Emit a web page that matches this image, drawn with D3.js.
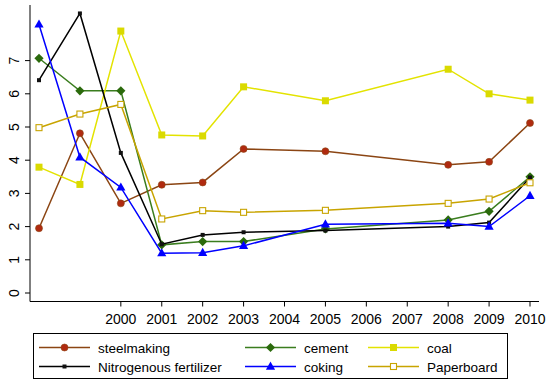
<!DOCTYPE html>
<html>
<head>
<meta charset="utf-8">
<script src="https://cdn.jsdelivr.net/npm/d3@7"></script>
<style>
  body { margin: 0; background: #fff; }
  text { font-family: "Liberation Sans", Arial, sans-serif; }
</style>
</head>
<body>
<svg id="canvas" width="550" height="386"></svg>
<script>
// years on the x axis (no data for 2004, 2006, 2007)
var years = [1998, 1999, 2000, 2001, 2002, 2003, 2005, 2008, 2009, 2010];
var tickYears = [2000, 2001, 2002, 2003, 2004, 2005, 2006, 2007, 2008, 2009, 2010];
var yTicks = [0, 1, 2, 3, 4, 5, 6, 7];

var steelmaking = [1.95, 4.81, 2.70, 3.26, 3.33, 4.34, 4.27, 3.86, 3.95, 5.12];
var cement      = [7.07, 6.09, 6.09, 1.45, 1.55, 1.55, 1.93, 2.20, 2.46, 3.50];
var coal        = [3.79, 3.27, 7.89, 4.76, 4.73, 6.21, 5.79, 6.74, 6.00, 5.81];
var fertilizer  = [6.41, 8.42, 4.22, 1.47, 1.75, 1.83, 1.88, 2.00, 2.12, 3.48];
var coking      = [8.09, 4.09, 3.18, 1.20, 1.21, 1.42, 2.07, 2.10, 2.00, 2.93];
var paperboard  = [4.98, 5.39, 5.68, 2.23, 2.48, 2.43, 2.49, 2.70, 2.83, 3.32];

var seriesNames = ["steelmaking", "cement", "coal", "Nitrogenous fertilizer", "coking", "Paperboard"];

var series = [
  { name: seriesNames[0], values: steelmaking, line: "#8b4513", fill: "#b02a10", marker: "circle" },
  { name: seriesNames[1], values: cement, line: "#3a7d1e", fill: "#2b6a0c", marker: "diamond" },
  { name: seriesNames[2], values: coal, line: "#e3e300", fill: "#dada00", marker: "square" },
  { name: seriesNames[3], values: fertilizer, line: "#000000", fill: "#111111", marker: "small" },
  { name: seriesNames[4], values: coking, line: "#0000ff", fill: "#0000ff", marker: "triangle" },
  { name: seriesNames[5], values: paperboard, line: "#c8a400", fill: "none", marker: "hollow" }
];

var svg = d3.select("#canvas");

var x = d3.scaleLinear().domain([1998, 2010]).range([39, 530]);
var y = d3.scaleLinear().domain([0, 7]).range([293, 60.6]);

var axisLeftX = 30, axisBottomY = 301.5;

// y axis
svg.append("line")
  .attr("x1", axisLeftX).attr("x2", axisLeftX)
  .attr("y1", 5).attr("y2", axisBottomY)
  .attr("stroke", "#000").attr("stroke-width", 1);

var yt = svg.append("g");
yTicks.forEach(function(t) {
  yt.append("line")
    .attr("x1", axisLeftX - 5).attr("x2", axisLeftX)
    .attr("y1", y(t)).attr("y2", y(t))
    .attr("stroke", "#000");
  yt.append("text")
    .attr("transform", "translate(19," + y(t) + ") rotate(-90)")
    .attr("text-anchor", "middle")
    .attr("font-size", "14px")
    .text(t);
});

// x axis
svg.append("line")
  .attr("x1", axisLeftX).attr("x2", 539)
  .attr("y1", axisBottomY).attr("y2", axisBottomY)
  .attr("stroke", "#000");

var xt = svg.append("g");
tickYears.forEach(function(t) {
  xt.append("line")
    .attr("x1", x(t)).attr("x2", x(t))
    .attr("y1", axisBottomY).attr("y2", axisBottomY + 5)
    .attr("stroke", "#000");
  xt.append("text")
    .attr("x", x(t)).attr("y", 324)
    .attr("text-anchor", "middle")
    .attr("font-size", "14px")
    .text(t);
});

function drawMarker(g, kind, cx, cy, s) {
  if (kind == "circle") {
    g.append("circle").attr("cx", cx).attr("cy", cy).attr("r", 3.5)
      .attr("fill", s.fill).attr("stroke", s.line).attr("stroke-width", 0.6);
  } else if (kind == "diamond") {
    var r = 4.6;
    g.append("path")
      .attr("d", "M" + cx + "," + (cy - r) + "L" + (cx + r) + "," + cy + "L" + cx + "," + (cy + r) + "L" + (cx - r) + "," + cy + "Z")
      .attr("fill", s.fill);
  } else if (kind == "square") {
    g.append("rect").attr("x", cx - 3.5).attr("y", cy - 3.5).attr("width", 7).attr("height", 7)
      .attr("fill", s.fill);
  } else if (kind == "small") {
    g.append("rect").attr("x", cx - 2).attr("y", cy - 2).attr("width", 4).attr("height", 4)
      .attr("fill", s.fill);
  } else if (kind == "triangle") {
    var h = 5;
    g.append("path")
      .attr("d", "M" + cx + "," + (cy - h) + "L" + (cx + 4.6) + "," + (cy + 3.2) + "L" + (cx - 4.6) + "," + (cy + 3.2) + "Z")
      .attr("fill", s.fill);
  } else if (kind == "hollow") {
    g.append("rect").attr("x", cx - 3).attr("y", cy - 3).attr("width", 6).attr("height", 6)
      .attr("fill", "#fff").attr("stroke", s.line).attr("stroke-width", 1.1);
  }
}

var line = d3.line()
  .x(function(d) { return x(d[0]); })
  .y(function(d) { return y(d[1]); });

series.forEach(function(s) {
  var pts = years.map(function(yr, i) { return [yr, s.values[i]]; });
  var g = svg.append("g");
  g.append("path")
    .attr("d", line(pts))
    .attr("fill", "none")
    .attr("stroke", s.line)
    .attr("stroke-width", 1.5);
  pts.forEach(function(p) { drawMarker(g, s.marker, x(p[0]), y(p[1]), s); });
});

// legend
var legend = svg.append("g");
legend.append("rect")
  .attr("x", 33.5).attr("y", 333.5).attr("width", 474).attr("height", 45)
  .attr("fill", "#fff").attr("stroke", "#000").attr("stroke-width", 1);

var colX = [39, 245, 368];
var rowY = [347.5, 366.5];
series.forEach(function(s, i) {
  var cx = colX[i % 3], cy = rowY[Math.floor(i / 3)];
  legend.append("line")
    .attr("x1", cx).attr("x2", cx + 51)
    .attr("y1", cy).attr("y2", cy)
    .attr("stroke", s.line).attr("stroke-width", 1.5);
  drawMarker(legend, s.marker, cx + 25.5, cy, s);
  legend.append("text")
    .attr("x", cx + 59).attr("y", cy + 5)
    .attr("font-size", "13.5px")
    .text(s.name);
});
</script>
</body>
</html>
